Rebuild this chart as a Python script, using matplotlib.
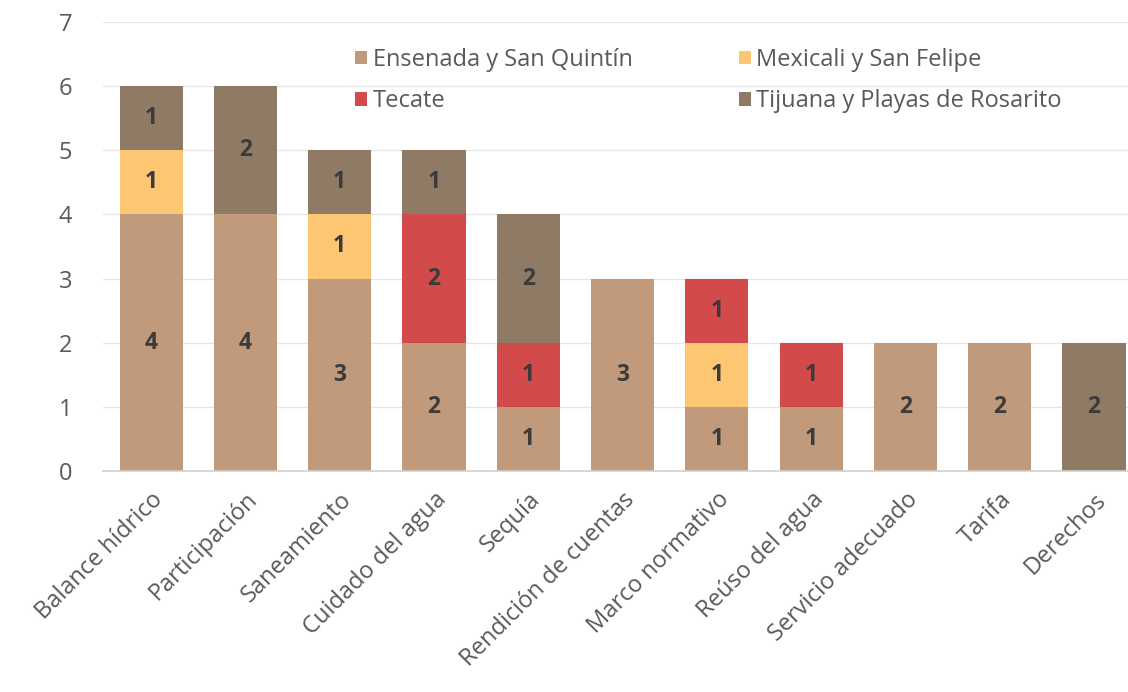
import numpy as np
import matplotlib.pyplot as plt

# categories and series values
categories = ['Balance hídrico', 'Participación', 'Saneamiento', 'Cuidado del agua',
              'Sequía', 'Rendición de cuentas', 'Marco normativo', 'Reúso del agua',
              'Servicio adecuado', 'Tarifa', 'Derechos']
ensenada = [4, 4, 3, 2, 1, 3, 1, 1, 2, 2, 0]
mexicali = [1, 0, 1, 0, 0, 0, 1, 0, 0, 0, 0]
tecate = [0, 0, 0, 2, 1, 0, 1, 1, 0, 0, 0]
tijuana = [1, 2, 1, 1, 2, 0, 0, 0, 0, 0, 2]

series = [
    ('Ensenada y San Quintín', ensenada, '#C09A7B'),
    ('Mexicali y San Felipe', mexicali, '#FCC672'),
    ('Tecate', tecate, '#D24A4A'),
    ('Tijuana y Playas de Rosarito', tijuana, '#8F7A66'),
]

plt.rcParams['font.family'] = ['Open Sans', 'DejaVu Sans']

fig = plt.figure(figsize=(11.28, 6.92), dpi=100)
ax = fig.add_axes([103 / 1128, 1 - 471 / 692, 1 - 103 / 1128, (471 - 22) / 692])

x = np.arange(len(categories))
bottom = np.zeros(len(categories))
handles = []
for name, vals, color in series:
    vals = np.array(vals, dtype=float)
    bars = ax.bar(x, vals, 0.67, bottom=bottom, color=color, label=name, zorder=2)
    handles.append(bars)
    # value labels in the middle of each segment
    for xi, v, b in zip(x, vals, bottom):
        if v > 0:
            ax.text(xi, b + v / 2, '%d' % v, ha='center', va='center',
                    fontsize=16.5, fontweight='bold', color='#3B3B3B', zorder=3)
    bottom += vals

ax.set_xlim(-0.51, 10.36)
ax.set_ylim(0, 7)
ax.set_yticks(range(0, 8))
ax.yaxis.grid(True, color='#E6E6E6', linewidth=1, zorder=0)
ax.set_axisbelow(True)

for s in ['top', 'right', 'left']:
    ax.spines[s].set_visible(False)
ax.spines['bottom'].set_color('#D0D0D0')
ax.spines['bottom'].set_linewidth(1.2)

ax.tick_params(axis='both', length=0, labelsize=17, colors='#595959')
ax.tick_params(axis='y', pad=22)
ax.set_xticks(x)
ax.set_xticklabels(categories, rotation=45, ha='right', rotation_mode='anchor')
ax.tick_params(axis='x', pad=12)

# legend filled row by row: Ensenada, Mexicali / Tecate, Tijuana
order = [0, 2, 1, 3]
ax.legend(handles=[handles[i] for i in order], ncol=2, loc='upper left',
          bbox_to_anchor=(0.225, 0.99), frameon=False, fontsize=17, labelcolor='#595959',
          handlelength=0.5, handleheight=0.5, handletextpad=0.25,
          columnspacing=4.5, labelspacing=0.75)

fig.savefig('out.png', dpi=100)
